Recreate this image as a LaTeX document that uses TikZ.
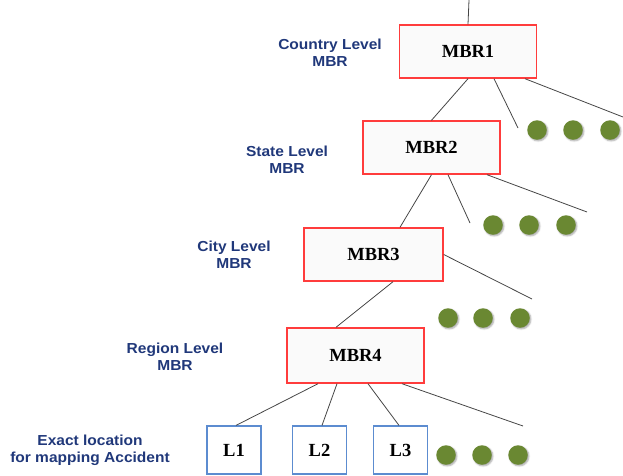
\documentclass[tikz,border=0pt]{standalone}
\usepackage{fontspec}
\setmainfont{Liberation Serif}
\newfontfamily\labelfont[FakeStretch=1.07]{Liberation Sans}
\usetikzlibrary{calc,shadows.blur}

\definecolor{mbrred}{RGB}{255,60,60}
\definecolor{leafblue}{RGB}{92,140,208}
\definecolor{dotgreen}{RGB}{106,136,50}
\definecolor{labelnavy}{RGB}{32,56,122}
\definecolor{edgegray}{RGB}{70,70,70}

\begin{document}
\begin{tikzpicture}[x=1pt,y=-1pt,
  mbr/.style={draw=mbrred, line width=1.4pt, fill=black!2,
    minimum width=137pt, minimum height=53pt, inner sep=0pt,
    font=\fontsize{18.5}{20}\selectfont\bfseries},
  leaf/.style={draw=leafblue, line width=1.2pt, fill=white,
    minimum width=54pt, minimum height=48pt, inner sep=0pt,
    font=\fontsize{18.5}{20}\selectfont\bfseries},
  levellabel/.style={align=center, text=labelnavy, inner sep=0pt,
    font=\labelfont\bfseries\fontsize{14.5}{17}\selectfont},
  dot/.style={circle, fill=dotgreen, minimum size=19.5pt, inner sep=0pt,
    blur shadow={shadow xshift=1.2pt, shadow yshift=-1.2pt,
      shadow blur radius=1.5pt, shadow opacity=35}},
  link/.style={draw=edgegray, line width=0.8pt}
]
\useasboundingbox (0,0) rectangle (623,475);

% hierarchy of minimum bounding rectangles
\node[mbr] (m1) at (468,51.5) {MBR1};
\node[mbr] (m2) at (431.5,147.5) {MBR2};
\node[mbr, minimum width=139pt] (m3) at (373.5,254.5) {MBR3};
\node[mbr, minimum height=55pt] (m4) at (355.5,355.5) {MBR4};

% leaf locations
\node[leaf] (l1) at (234,450) {L1};
\node[leaf] (l2) at (319.5,450) {L2};
\node[leaf] (l3) at (400.5,450) {L3};

% level captions
\node[levellabel] (c1) at (330,52.5) {Country Level\\MBR};
\node[levellabel] (c2) at (287,159.5) {State Level\\MBR};
\node[levellabel] (c3) at (234,255) {City Level\\MBR};
\node[levellabel] (c4) at (175,356.5) {Region Level\\MBR};
\node[levellabel] (c5) at (90,450) {Exact location\\for mapping Accident};

% further siblings, shown as dots
\foreach \r/\y/\xa/\xb/\xc in {1/130/537/573/610, 2/225/493/529/566,
                                3/318/448/483/520, 4/455/446/482/518}{
  \node[dot] (d\r a) at (\xa,\y) {};
  \node[dot] (d\r b) at (\xb,\y) {};
  \node[dot] (d\r c) at (\xc,\y) {};
}

% loose ends of the branches
\coordinate (root) at (469,0);
\coordinate (e1b) at (518,128);
\coordinate (e1c) at (623,117);
\coordinate (e2b) at (470,223);
\coordinate (e2c) at (587,212);
\coordinate (e3b) at (532,299);
\coordinate (e4d) at (523,426);

% branches
\draw[link] (root) -- (m1.north);
\draw[link] (m1.south) -- (m2.north);
\draw[link] ([xshift=26pt]m1.south) -- (e1b);
\draw[link] ([xshift=57pt]m1.south) -- (e1c);

\draw[link] (m2.south) -- ([xshift=26.5pt]m3.north);
\draw[link] ([xshift=16.5pt]m2.south) -- (e2b);
\draw[link] ([xshift=55.5pt]m2.south) -- (e2c);

\draw[link] ([xshift=19.5pt]m3.south) -- ([xshift=-19.5pt]m4.north);
\draw[link] (m3.east) -- (e3b);

\draw[link] ([xshift=-37.5pt]m4.south) -- ([xshift=2pt]l1.north);
\draw[link] ([xshift=-18.5pt]m4.south) -- ([xshift=2.5pt]l2.north);
\draw[link] ([xshift=12.5pt]m4.south) -- ([xshift=-1.5pt]l3.north);
\draw[link] ([xshift=46.5pt]m4.south) -- (e4d);
\end{tikzpicture}
\end{document}
